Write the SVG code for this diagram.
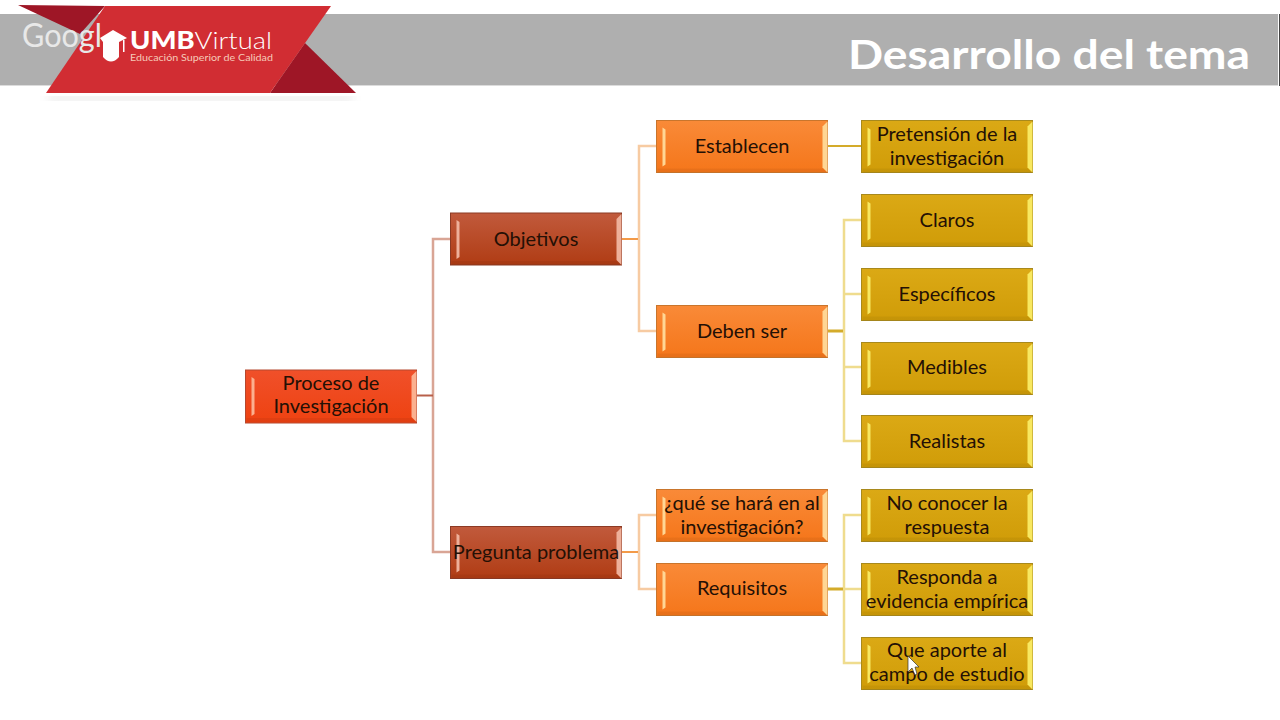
<svg xmlns="http://www.w3.org/2000/svg" width="1280" height="720" viewBox="0 0 1280 720">
<style>
.t{font-family:Lato,"Noto Sans",sans-serif;font-size:20px;fill:#241005;text-anchor:middle}
.box{stroke-width:1;width:171px;height:52px}
.r{fill:url(#gr);stroke:#b5482e}
.m{fill:url(#gm);stroke:#8c3a24}
.o{fill:url(#go);stroke:#c9752c}
.y{fill:url(#gy);stroke:#a8891c}
.br{fill:#fbb08f}.bm{fill:#eeb09a}.bo{fill:#ffd694}.by{fill:#f8e860}
.c{fill:none}
.c1{stroke:#d9a595;stroke-width:2.500}.c2{stroke:#f7cba2;stroke-width:2.500}.c3{stroke:#efdc8e;stroke-width:2.500}
.l1{stroke:#b8604a;stroke-width:2}.l2{stroke:#f39a48;stroke-width:2}.l3{stroke:#d4ab2a;stroke-width:2}.l4{stroke:#d4ab2a;stroke-width:3}
</style>
<defs>
<linearGradient id="gr" x1="0" y1="0" x2="0" y2="1"><stop offset="0" stop-color="#f0502a"/><stop offset="1" stop-color="#ee4211"/></linearGradient>
<linearGradient id="gm" x1="0" y1="0" x2="0" y2="1"><stop offset="0" stop-color="#c15a3c"/><stop offset="1" stop-color="#b03c14"/></linearGradient>
<linearGradient id="go" x1="0" y1="0" x2="0" y2="1"><stop offset="0" stop-color="#f98a38"/><stop offset="1" stop-color="#f5761a"/></linearGradient>
<linearGradient id="gy" x1="0" y1="0" x2="0" y2="1"><stop offset="0" stop-color="#dba915"/><stop offset="1" stop-color="#d09c08"/></linearGradient>
<filter id="sh" x="-10%" y="-20%" width="120%" height="150%"><feGaussianBlur stdDeviation="4"/></filter>
<g id="bevel">
<polygon points="6,7 9,9 9,44 6,46"/>
<polygon points="166,6 171,1 171,52 166,47"/>
<polygon points="1,48 166,48 171,52 1,52" fill="#000" fill-opacity=".05"/>
</g>
</defs>
<rect width="1280" height="720" fill="#fff"/>
<g id="header">
<rect x="0" y="14" width="1278" height="71" fill="#afafaf"/>
<rect x="0" y="85" width="1278" height="1" fill="#dcdcdc"/>
<rect x="1279" y="14" width="1" height="72" fill="#444"/>
<polygon points="46,97 270,97 356,97 350,100 50,100" fill="#888" opacity=".35" filter="url(#sh)"/>
<polygon points="18,5 105,6 80,34" fill="#9e1626"/>
<polygon points="305,43 356,93 270,93" fill="#9e1626"/>
<polygon points="105,6 331,6 270,93 46,93" fill="#d12d33"/>
<text x="22" y="47" font-family="Lato,sans-serif" font-size="33" fill="#e8e8e8" textLength="80" lengthAdjust="spacingAndGlyphs">Googl</text>
<path d="M100 38L113 30L127 38L119 42V57Q111 66 103 57V42Z" fill="#fff"/>
<rect x="123" y="40" width="1.500" height="12" fill="#fff"/>
<text x="130" y="49" font-family="Lato,sans-serif" font-size="24" font-weight="900" fill="#fff" textLength="142" lengthAdjust="spacingAndGlyphs">UMB<tspan font-weight="300">Virtual</tspan></text>
<text x="130" y="61" font-family="Lato,sans-serif" font-size="9" fill="#f6c9b8" textLength="143" lengthAdjust="spacingAndGlyphs">Educación Superior de Calidad</text>
<text x="848" y="69" font-family="Lato,sans-serif" font-size="41" font-weight="700" fill="#fff" textLength="402" lengthAdjust="spacingAndGlyphs">Desarrollo del tema</text>
</g>
<g id="connectors">
<path class="c c1" d="M450 239H433V552H450"/>
<path class="c l1" d="M417 395.500H433"/>
<path class="c c2" d="M656 146H639V331H656M656 515H639V589H656"/>
<path class="c l2" d="M622 239H638M622 552H638"/>
<path class="c c3" d="M861 220H844V441H861M844 294H861M844 367H861M861 515H844V663H861M844 589H861"/>
<path class="c l3" d="M828 146H861"/>
<path class="c l4" d="M828 331H843M828 589H843"/>
</g>
<g id="n-proceso"><rect class="box r" x="245.500" y="370" style="height:53px"/><use class="br" href="#bevel" x="245.500" y="370"/><text class="t" x="331" y="390">Proceso de</text><text class="t" x="331" y="413">Investigación</text></g>
<g id="n-objetivos"><rect class="box m" x="450.500" y="213"/><use class="bm" href="#bevel" x="450.500" y="213"/><text class="t" x="536" y="246">Objetivos</text></g>
<g id="n-pregunta"><rect class="box m" x="450.500" y="526.500"/><use class="bm" href="#bevel" x="450.500" y="526.500"/><text class="t" x="536" y="559">Pregunta problema</text></g>
<g id="n-establecen"><rect class="box o" x="656.500" y="120.500"/><use class="bo" href="#bevel" x="656.500" y="120.500"/><text class="t" x="742" y="153">Establecen</text></g>
<g id="n-deben"><rect class="box o" x="656.500" y="305.500"/><use class="bo" href="#bevel" x="656.500" y="305.500"/><text class="t" x="742" y="338">Deben ser</text></g>
<g id="n-que"><rect class="box o" x="656.500" y="489.500"/><use class="bo" href="#bevel" x="656.500" y="489.500"/><text class="t" x="742" y="510">¿qué se hará en al</text><text class="t" x="742" y="534">investigación?</text></g>
<g id="n-requisitos"><rect class="box o" x="656.500" y="563.500"/><use class="bo" href="#bevel" x="656.500" y="563.500"/><text class="t" x="742" y="595">Requisitos</text></g>
<g id="n-pretension"><rect class="box y" x="861.500" y="120.500"/><use class="by" href="#bevel" x="861.500" y="120.500"/><text class="t" x="947" y="141">Pretensión de la</text><text class="t" x="947" y="165">investigación</text></g>
<g id="n-claros"><rect class="box y" x="861.500" y="194.500"/><use class="by" href="#bevel" x="861.500" y="194.500"/><text class="t" x="947" y="227">Claros</text></g>
<g id="n-especificos"><rect class="box y" x="861.500" y="268.500"/><use class="by" href="#bevel" x="861.500" y="268.500"/><text class="t" x="947" y="301">Específicos</text></g>
<g id="n-medibles"><rect class="box y" x="861.500" y="342.500"/><use class="by" href="#bevel" x="861.500" y="342.500"/><text class="t" x="947" y="374">Medibles</text></g>
<g id="n-realistas"><rect class="box y" x="861.500" y="415.500"/><use class="by" href="#bevel" x="861.500" y="415.500"/><text class="t" x="947" y="448">Realistas</text></g>
<g id="n-noconocer"><rect class="box y" x="861.500" y="489.500"/><use class="by" href="#bevel" x="861.500" y="489.500"/><text class="t" x="947" y="510">No conocer la</text><text class="t" x="947" y="534">respuesta</text></g>
<g id="n-responda"><rect class="box y" x="861.500" y="563.500"/><use class="by" href="#bevel" x="861.500" y="563.500"/><text class="t" x="947" y="584">Responda a</text><text class="t" x="947" y="608">evidencia empírica</text></g>
<g id="n-aporte"><rect class="box y" x="861.500" y="637.500"/><use class="by" href="#bevel" x="861.500" y="637.500"/><text class="t" x="947" y="657">Que aporte al</text><text class="t" x="947" y="681">campo de estudio</text></g>
<polygon points="908,656 908,672 912,668 915,675 917,674 915,667 919,667" fill="#fff" stroke="#333" stroke-width=".7"/>
</svg>
